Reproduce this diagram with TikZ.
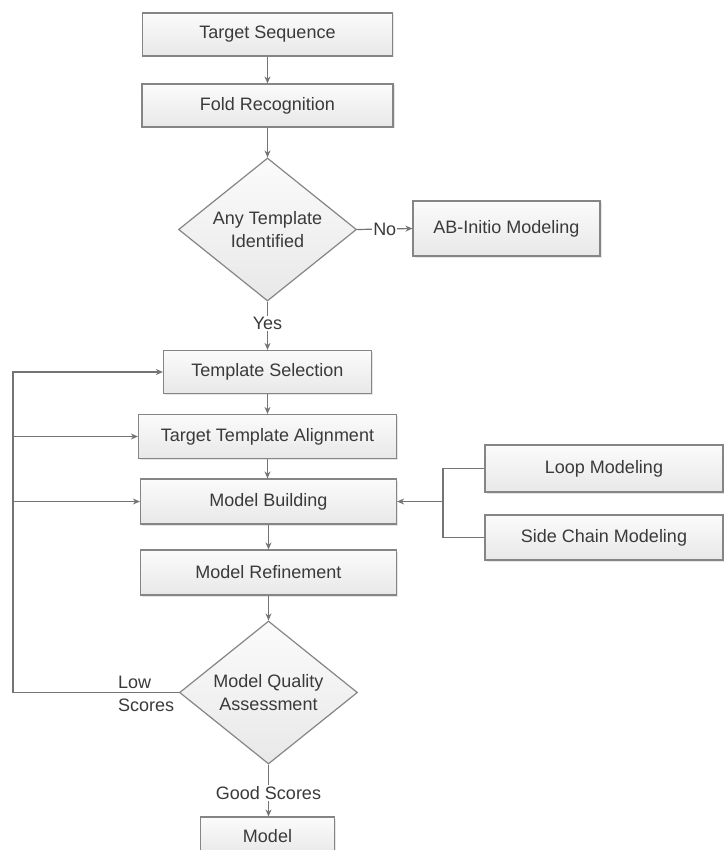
\documentclass[tikz,border=0pt]{standalone}
\usepackage{fontspec}
\setmainfont{Liberation Sans}
\usetikzlibrary{shapes.geometric,arrows.meta,shadows}
\definecolor{linec}{HTML}{747474}
\definecolor{borderc}{HTML}{858585}
\definecolor{txtc}{HTML}{3A3A3A}
\definecolor{boxbot}{HTML}{E8E8E8}
\definecolor{boxtop}{HTML}{FBFBFB}
\begin{document}
\begin{tikzpicture}[x=1pt,y=-1pt,
  font=\fontsize{18}{23}\selectfont, text=txtc,
  box/.style={draw=borderc, line width=1.2pt, top color=boxtop, bottom color=boxbot,
    inner sep=0pt, align=center,
    drop shadow={shadow xshift=1.5pt, shadow yshift=-1.5pt, opacity=0.2, fill=gray}},
  dia/.style={diamond, aspect=1.24, draw=borderc, line width=1.2pt, top color=boxtop,
    bottom color=boxbot, inner sep=0pt, align=center,
    minimum width=178pt, minimum height=143pt},
  arr/.style={draw=linec, line width=1.2pt, -{Stealth[length=7pt,width=6pt]}},
  ln/.style={draw=linec, line width=1.2pt},
  lbl/.style={fill=white, inner sep=1pt}]
\useasboundingbox[fill=white] (0,0) rectangle (723,850);

\node[box, minimum width=250pt, minimum height=43pt] (ts) at (267.5,34.5) {Target Sequence};
\node[box, minimum width=251pt, minimum height=43pt] (fr) at (267.5,105.5) {Fold Recognition};
\node[dia] (d1) at (267.5,229.5) {Any Template\\Identified};
\node[box, minimum width=187pt, minimum height=55pt] (ab) at (506.5,228.5) {AB-Initio Modeling};
\node[box, minimum width=208pt, minimum height=43pt] (tsel) at (267.5,372) {Template Selection};
\node[box, minimum width=258pt, minimum height=44pt] (tta) at (267.5,436.5) {Target Template Alignment};
\node[box, minimum width=256pt, minimum height=45pt] (mb) at (268.5,501.5) {Model Building};
\node[box, minimum width=256pt, minimum height=45pt] (mr) at (268.5,572.5) {Model Refinement};
\node[box, minimum width=238pt, minimum height=47pt] (lm) at (604,468.5) {Loop Modeling};
\node[box, minimum width=238pt, minimum height=45pt] (sc) at (604,537.5) {Side Chain Modeling};
\node[dia] (d2) at (268.5,692.5) {Model Quality\\Assessment};
\node[box, minimum width=134pt, minimum height=38pt] (model) at (267.5,836) {Model};
\node[anchor=west, align=left, inner sep=0pt] (low) at (118,693.5) {Low\\Scores};

\coordinate (L) at (13,692.5);
\coordinate (br) at (443,501.5);

\draw[arr] (ts) -- (fr);
\draw[arr] (fr.south) -- (d1.north);
\draw[arr] (d1.east) -- node[lbl] (no) {No} (ab.west);
\draw[arr] (d1.south) -- node[lbl, pos=0.45] (yes) {Yes} (tsel.north);
\draw[arr] (tsel) -- (tta);
\draw[arr] (tta.south) -- (tta.south |- mb.north);
\draw[arr] (mb) -- (mr);
\draw[arr] (mr.south) -- (mr.south |- d2.north);
\draw[arr] (d2.south) -- node[lbl, pos=0.55] (good) {Good Scores} (d2.south |- model.north);

\draw[arr] (d2.west) -- (L) |- (tsel.west);
\draw[arr] (L |- tta.west) -- (tta.west);
\draw[arr] (L |- mb.west) -- (mb.west);

\draw[ln] (lm.west) -| (br) |- (sc.west);
\draw[arr] (br) -- (mb.east);
\end{tikzpicture}
\end{document}
